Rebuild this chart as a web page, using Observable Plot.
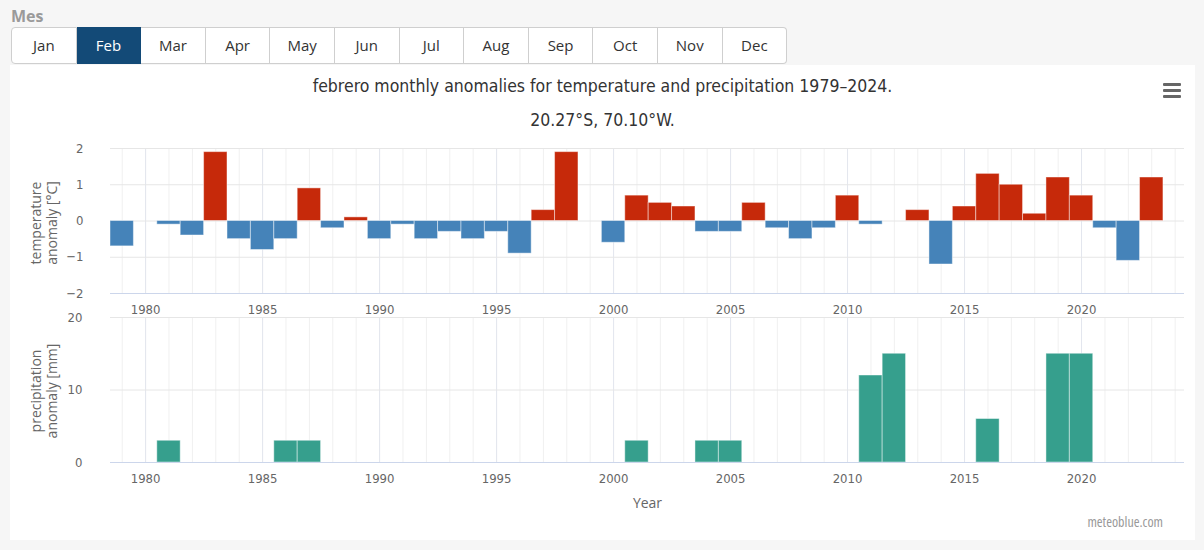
<!DOCTYPE html>
<html>
<head>
<meta charset="utf-8">
<script src="https://cdn.jsdelivr.net/npm/d3@7"></script>
<script src="https://cdn.jsdelivr.net/npm/@observablehq/plot@0.6"></script>
<style>
  html, body { margin: 0; padding: 0; }
  body { width: 1204px; height: 550px; background: #f6f6f6; position: relative; overflow: hidden; font-family: "Open Sans", "Noto Sans", sans-serif; }
  #mes { position: absolute; left: 11px; top: 5px; font-size: 16px; font-weight: bold; color: #9a9a9a; }
  #tabs { position: absolute; left: 11px; top: 27px; display: flex; }
  .tab { width: 63.6px; height: 35px; line-height: 35px; text-align: center; font-size: 15px; color: #333; background: #fff; border: 1px solid #cfcfcf; border-left: none; box-sizing: content-box; }
  .tab:first-child { border-left: 1px solid #cfcfcf; border-radius: 4px 0 0 4px; }
  .tab:last-child { border-radius: 0 4px 4px 0; }
  .tab.active { background: #134a77; color: #fff; border-color: #134a77; }
  #panel { position: absolute; left: 10px; top: 65px; width: 1185px; height: 475px; background: #fff; }
  .dvc { font-family: "DejaVu Sans Condensed", "DejaVu Sans", sans-serif; font-stretch: condensed; }
  .title { position: absolute; left: 10px; width: 1185px; text-align: center; font-size: 17.5px; color: #333; }
  .burger { position: absolute; left: 1163px; width: 18px; height: 3px; background: #666; border-radius: 1px; }
  #credit { position: absolute; right: 41px; top: 512px; font-size: 14px; color: #999; font-family: "Open Sans", sans-serif; font-stretch: condensed; }
  .chart { position: absolute; left: 0; }
  .chart g[aria-label="x-axis tick label"], .chart g[aria-label="y-axis tick label"] { font-family: "DejaVu Sans Condensed", "DejaVu Sans", sans-serif; font-stretch: condensed; }
</style>
</head>
<body>
<div id="mes">Mes</div>
<div id="tabs"></div>
<div id="panel"></div>
<div class="title dvc" style="top:76px">febrero monthly anomalies for temperature and precipitation 1979–2024.</div>
<div class="title dvc" style="top:110px">20.27°S, 70.10°W.</div>
<div class="burger" style="top:83px"></div>
<div class="burger" style="top:89px"></div>
<div class="burger" style="top:95px"></div>
<div id="tempChart" class="chart" style="top:130px"></div>
<div id="precChart" class="chart" style="top:300px"></div>
<div id="credit">meteoblue.com</div>
<script>
const months = ["Jan","Feb","Mar","Apr","May","Jun","Jul","Aug","Sep","Oct","Nov","Dec"];
const activeMonth = "Feb";

const years = [1979,1980,1981,1982,1983,1984,1985,1986,1987,1988,1989,1990,1991,1992,1993,1994,1995,1996,1997,1998,1999,2000,2001,2002,2003,2004,2005,2006,2007,2008,2009,2010,2011,2012,2013,2014,2015,2016,2017,2018,2019,2020,2021,2022,2023,2024];
const tempAnomaly = [-0.7,null,-0.1,-0.4,1.9,-0.5,-0.8,-0.5,0.9,-0.2,0.1,-0.5,-0.1,-0.5,-0.3,-0.5,-0.3,-0.9,0.3,1.9,null,-0.6,0.7,0.5,0.4,-0.3,-0.3,0.5,-0.2,-0.5,-0.2,0.7,-0.1,null,0.3,-1.2,0.4,1.3,1.0,0.2,1.2,0.7,-0.2,-1.1,1.2,null];
const precAnomaly = [0,0,3,0,0,0,0,3,3,0,0,0,0,0,0,0,0,0,0,0,0,0,3,0,0,3,3,0,0,0,0,0,12,15,0,0,0,6,0,0,15,15,0,0,0,0];

const xTicks = [1980,1985,1990,1995,2000,2005,2010,2015,2020];
const tempTicks = [-2,-1,0,1,2];
const precTicks = [0,10,20];

const colors = { warm: "#c6290a", cold: "#4583b9", prec: "#369f8d" };

const tabs = document.getElementById("tabs");
for (const m of months) {
  const d = document.createElement("div");
  d.className = "tab" + (m === activeMonth ? " active" : "");
  d.textContent = m;
  tabs.appendChild(d);
}

const tempData = years.map((y, i) => ({year: y, value: tempAnomaly[i]})).filter(d => d.value != null);
const precData = years.map((y, i) => ({year: y, value: precAnomaly[i]})).filter(d => d.value > 0);

const fmtMinus = d => d < 0 ? "\u2212" + Math.abs(d) : String(d);
const xDomain = [1978.5, 2024.4];
const chartStyle = {fontFamily: "'Open Sans', sans-serif", fontSize: "14px", color: "#666", background: "transparent", overflow: "visible"};

function gridMarks() {
  return [
    Plot.gridX(years, {stroke: "#f0f0f0", strokeOpacity: 1}),
    Plot.gridX(xTicks, {stroke: "#e3e6ee", strokeOpacity: 1})
  ];
}

const temp = Plot.plot({
  width: 1204, height: 195,
  marginLeft: 110, marginRight: 20, marginTop: 18, marginBottom: 32,
  style: chartStyle,
  x: {domain: xDomain, axis: null},
  y: {domain: [-2, 2], axis: null},
  marks: [
    ...gridMarks(),
    Plot.gridY(tempTicks, {stroke: "#e6e6e6", strokeOpacity: 1}),
    Plot.rectY(tempData, {
      x1: d => d.year - 0.5, x2: d => d.year + 0.5, y1: 0, y2: "value",
      fill: d => d.value >= 0 ? colors.warm : colors.cold,
      stroke: "#ffffff", strokeOpacity: 0.45, strokeWidth: 1
    }),
    Plot.ruleY([-2], {stroke: "#ccd6eb"}),
    Plot.axisX({ticks: xTicks, tickSize: 0, tickPadding: 11, tickFormat: d => String(d), fill: "#666", fontSize: 13, label: null}),
    Plot.axisY({ticks: tempTicks, tickSize: 0, tickPadding: 27, tickFormat: fmtMinus, fill: "#666", fontSize: 13, label: null}),
    Plot.text(["temperature\nanomaly [°C]"], {
      text: d => d, frameAnchor: "left", textAnchor: "middle", lineAnchor: "middle",
      dx: -67, dy: 2, rotate: -90,
      fontSize: 14, fill: "#666", lineHeight: 1.15
    })
  ]
});
document.getElementById("tempChart").appendChild(temp);

const prec = Plot.plot({
  width: 1204, height: 222,
  marginLeft: 110, marginRight: 20, marginTop: 17, marginBottom: 60,
  style: chartStyle,
  x: {domain: xDomain, axis: null},
  y: {domain: [0, 20], axis: null},
  marks: [
    ...gridMarks(),
    Plot.gridY(precTicks, {stroke: "#e6e6e6", strokeOpacity: 1}),
    Plot.rectY(precData, {
      x1: d => d.year - 0.5, x2: d => d.year + 0.5, y1: 0, y2: "value",
      fill: colors.prec, stroke: "#ffffff", strokeOpacity: 0.45, strokeWidth: 1
    }),
    Plot.ruleY([0], {stroke: "#ccd6eb"}),
    Plot.axisX({ticks: xTicks, tickSize: 0, tickPadding: 11, tickFormat: d => String(d), fill: "#666", fontSize: 13, label: null}),
    Plot.axisY({ticks: precTicks, tickSize: 0, tickPadding: 28, tickFormat: fmtMinus, fill: "#666", fontSize: 13, label: null}),
    Plot.text(["precipitation\nanomaly [mm]"], {
      text: d => d, frameAnchor: "left", textAnchor: "middle", lineAnchor: "middle",
      dx: -67, dy: 1, rotate: -90,
      fontSize: 14, fill: "#666", lineHeight: 1.15
    }),
    Plot.text(["Year"], {
      text: d => d, frameAnchor: "bottom", lineAnchor: "middle", dy: 41,
      fontSize: 14, fill: "#666"
    })
  ]
});
document.getElementById("precChart").appendChild(prec);
</script>
</body>
</html>
